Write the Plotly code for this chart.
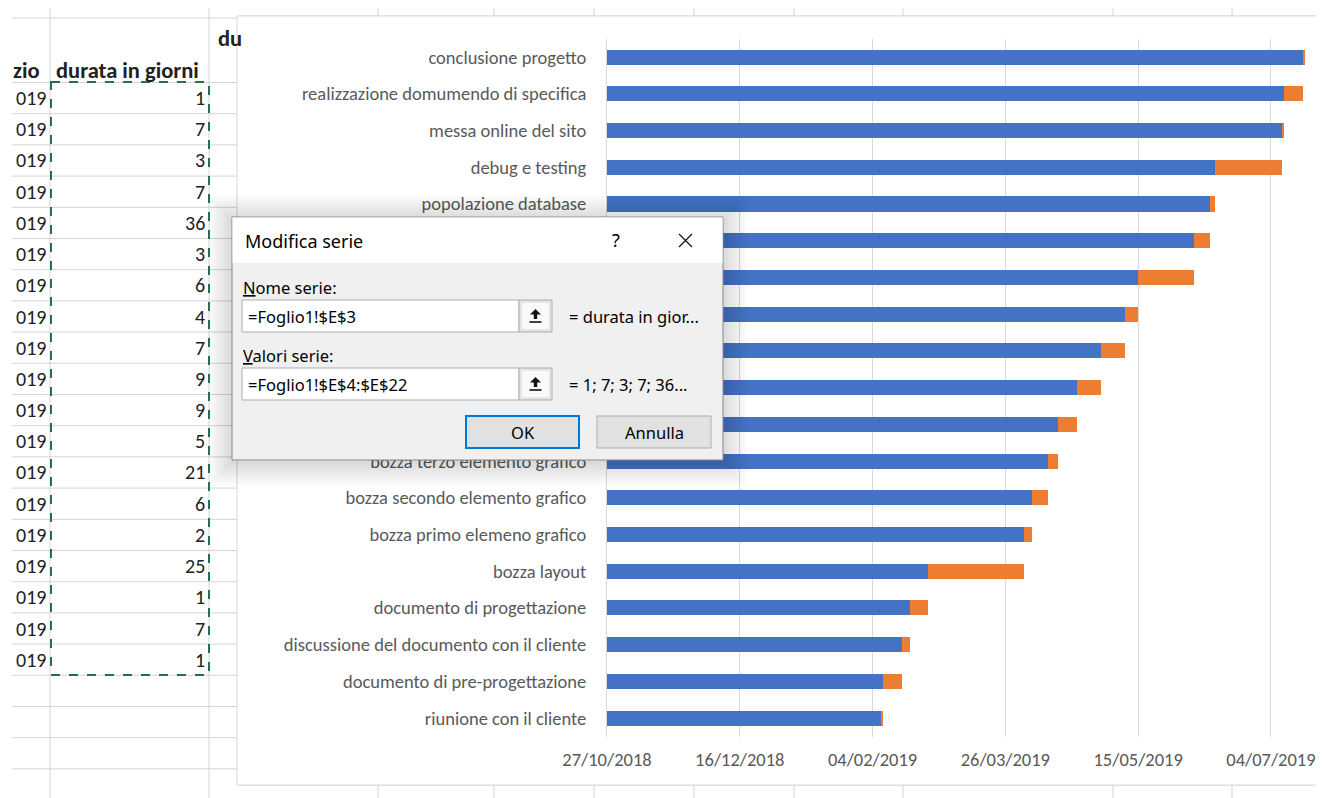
import plotly.graph_objects as go
import pandas as pd

W, H = 1324, 798          # target picture size
OFF = 8                   # page body margin
FW, FH = W, H             # figure size (page offset by body margin)

# ---------------- data (bottom to top, as in the sheet) ----------------
tasks = [
    "riunione con il cliente",
    "documento di pre-progettazione",
    "discussione del documento con il cliente",
    "documento di progettazione",
    "bozza layout",
    "bozza primo elemeno grafico",
    "bozza secondo elemento grafico",
    "bozza terzo elemento grafico",
    "attività 9",
    "attività 10",
    "attività 11",
    "attività 12",
    "attività 13",
    "attività 14",
    "popolazione database",
    "debug e testing",
    "messa online del sito",
    "realizzazione domumendo di specifica",
    "conclusione progetto",
]
# labels hidden behind the dialog box in the screenshot
hidden_labels = ["attività 9", "attività 10", "attività 11", "attività 12", "attività 13", "attività 14"]
start_dates = [
    "07/02/2019", "08/02/2019", "15/02/2019", "18/02/2019", "25/02/2019",
    "02/04/2019", "05/04/2019", "11/04/2019", "15/04/2019", "22/04/2019",
    "01/05/2019", "10/05/2019", "15/05/2019", "05/06/2019", "11/06/2019",
    "13/06/2019", "08/07/2019", "09/07/2019", "16/07/2019",
]
durations = [1, 7, 3, 7, 36, 3, 6, 4, 7, 9, 9, 5, 21, 6, 2, 25, 1, 7, 1]
tick_labels = ["27/10/2018", "16/12/2018", "04/02/2019", "26/03/2019", "15/05/2019", "04/07/2019"]
axis_min_date = "27/10/2018"
axis_max_date = "27/07/2019"

series_name_start = "data inizio"
series_name_dur = "durata in giorni"

# ---------------- helpers ----------------
origin = pd.to_datetime(axis_min_date, dayfirst=True)
def days(d):
    return (pd.to_datetime(d, dayfirst=True) - origin).days

offsets = [days(d) for d in start_dates]
tickvals = [days(t) for t in tick_labels]
xmax = days(axis_max_date)
y_ticktext = ["" if t in hidden_labels else t for t in tasks]

def PX(x):
    return (x - OFF) / FW

def PY(y):
    return 1 - (y - OFF) / FH

BLUE = "#4472C4"
ORANGE = "#ED7D31"
GRID = "#D9D9D9"
SHEETLINE = "#D4D4D4"
LABEL_FONT = "Carlito, Lato, sans-serif"
UI_FONT = "Noto Sans, Open Sans, sans-serif"

fig = go.Figure()
fig.add_trace(go.Bar(y=tasks, x=offsets, orientation="h", name=series_name_start,
                     marker=dict(color=BLUE, line=dict(width=0))))
fig.add_trace(go.Bar(y=tasks, x=durations, orientation="h", name=series_name_dur,
                     marker=dict(color=ORANGE, line=dict(width=0))))

shapes = []
annotations = []

def line(x0, y0, x1, y1, color=SHEETLINE, width=1, layer="below", dash=None):
    d = dict(type="line", xref="paper", yref="paper", x0=PX(x0), y0=PY(y0), x1=PX(x1), y1=PY(y1),
             line=dict(color=color, width=width), layer=layer)
    if dash:
        d["line"]["dash"] = dash
    shapes.append(d)

def rect(x0, y0, x1, y1, fill, color=None, width=0, layer="below"):
    shapes.append(dict(type="rect", xref="paper", yref="paper", x0=PX(x0), y0=PY(y0), x1=PX(x1), y1=PY(y1),
                       fillcolor=fill, line=dict(color=color or "rgba(0,0,0,0)", width=width), layer=layer))

def text(x, y, s, size=15, color="#000000", family=LABEL_FONT, xanchor="left", bold=False):
    if bold:
        s = "<b>" + s + "</b>"
    annotations.append(dict(xref="paper", yref="paper", x=PX(x), y=PY(y), text=s, showarrow=False,
                            xanchor=xanchor, yanchor="middle", borderpad=0,
                            font=dict(size=size, color=color, family=family)))

# ---------------- spreadsheet behind the chart ----------------
row_h = 31.2
row0 = 82.5
line(12, 18, 237, 18)
for k in range(0, 23):
    y = row0 + k * row_h
    line(12, y, 237, y)
line(50, 8, 50, 798)
line(209, 8, 209, 798)
line(237, 16, W + 20, 16)
line(237, 785, W + 20, 785)
for x in [378, 494, 594, 694, 794, 903, 1113, 1232]:
    line(x, 8, x, 16)
    line(x, 785, x, 798)

SHEET_SIZE = 20
HEAD_SIZE = 22.5
text(12, 70, "zio", size=HEAD_SIZE, color="#222222", bold=True)
text(55, 70, series_name_dur, size=HEAD_SIZE, color="#222222", bold=True)
text(217, 38, "du", size=HEAD_SIZE, color="#222222", bold=True)
for k, dval in enumerate(durations):
    yc = row0 + row_h * (k + 0.5)
    text(47, yc, "019", size=SHEET_SIZE, color="#222222", xanchor="right")
    text(206, yc, str(dval), size=SHEET_SIZE, color="#222222", xanchor="right")

rect(51, 82, 209, 675, "rgba(0,0,0,0)", color="#217346", width=2, layer="below")
shapes[-1]["line"]["dash"] = "dash"

# chart area
rect(237, 16, W + 40, 785, "#FFFFFF", color=GRID, width=1, layer="below")

# ---------------- dialog ----------------
DX0, DY0, DX1, DY1 = 232, 217, 723, 460
for i in range(1, 10):
    g = i * 2.6
    rect(DX0 - g, DY0 - g + 2, DX1 + g, DY1 + g + 2, "rgba(0,0,0,0.017)", layer="above")
rect(DX0, DY0, DX1, DY1, "#F0F0F0", color="#8A8A8A", width=1, layer="above")
rect(DX0 + 0.5, DY0 + 0.5, DX1 - 0.5, 263, "#FFFFFF", layer="above")
text(244, 241, "Modifica serie", size=18, family=UI_FONT)
text(616, 240, "?", size=18, family=UI_FONT, xanchor="center")
line(679, 234, 692, 247, color="#111111", width=1.3, layer="above")
line(679, 247, 692, 234, color="#111111", width=1.3, layer="above")

BODY = 16.5
text(242, 287, "<u>N</u>ome serie:", size=BODY, family=UI_FONT)
text(242, 355, "<u>V</u>alori serie:", size=BODY, family=UI_FONT)

for (ytop, ybot, ref, preview) in [
    (300, 332, "=Foglio1!$E$3", "= " + series_name_dur[:14] + "..."),
    (368, 400, "=Foglio1!$E$4:$E$22", "= " + "; ".join(str(v) for v in durations[:5]) + "..."),
]:
    rect(242, ytop, 519, ybot, "#FFFFFF", color="#ADADAD", width=1, layer="above")
    rect(519, ytop, 552, ybot, "#E5E5E5", color="#ADADAD", width=1, layer="above")
    rect(522, ytop + 3, 549, ybot - 3, "#FAFAFA", layer="above")
    yc = (ytop + ybot) / 2
    shapes.append(dict(type="path", xref="paper", yref="paper", layer="above",
                       path=(f"M {PX(535.5)} {PY(yc - 7)} L {PX(530)} {PY(yc - 1.5)} L {PX(533.8)} {PY(yc - 1.5)} "
                             f"L {PX(533.8)} {PY(yc + 3)} L {PX(537.2)} {PY(yc + 3)} L {PX(537.2)} {PY(yc - 1.5)} "
                             f"L {PX(541)} {PY(yc - 1.5)} Z"),
                       fillcolor="#111111", line=dict(width=0)))
    line(529.5, yc + 6, 541.5, yc + 6, color="#111111", width=1.6, layer="above")
    text(247, yc + 0.5, ref, size=BODY, family=UI_FONT)
    text(568, yc + 0.5, preview, size=BODY, family=UI_FONT)

rect(466, 416, 579, 448, "#E1E1E1", color="#0078D7", width=2, layer="above")
text(522.5, 432.5, "OK", size=BODY, family=UI_FONT, xanchor="center")
rect(597, 416, 711, 448, "#E1E1E1", color="#ADADAD", width=1, layer="above")
text(654, 432.5, "Annulla", size=BODY, family=UI_FONT, xanchor="center")

# ---------------- layout ----------------
fig.update_layout(
    width=FW, height=FH,
    margin=dict(l=0, r=0, t=0, b=0),
    paper_bgcolor="#FFFFFF",
    plot_bgcolor="rgba(0,0,0,0)",
    barmode="stack",
    bargap=0.59,
    showlegend=False,
    shapes=shapes,
    annotations=annotations,
    xaxis=dict(
        domain=[PX(607), 1.0],
        range=[0, xmax],
        tickvals=tickvals,
        ticktext=tick_labels,
        showgrid=True, gridcolor=GRID, gridwidth=1,
        zeroline=False, showline=False, ticks="",
        tickfont=dict(family="Carlito, Lato, sans-serif", size=18.5, color="#595959"),
        ticklabelstandoff=10,
        ticklabeloverflow="allow",
        automargin=False,
    ),
    yaxis=dict(
        domain=[PY(736.5), PY(38.7)],
        type="category",
        categoryorder="array", categoryarray=tasks,
        tickmode="array", tickvals=tasks, ticktext=y_ticktext,
        range=[-0.5, len(tasks) - 0.5],
        showgrid=False, zeroline=False,
        showline=True, linecolor=GRID, linewidth=1,
        ticks="",
        tickfont=dict(family=LABEL_FONT, size=18.5, color="#595959"),
        ticklabelstandoff=16,
        automargin=False,
    ),
)

fig.write_html("out.html")
